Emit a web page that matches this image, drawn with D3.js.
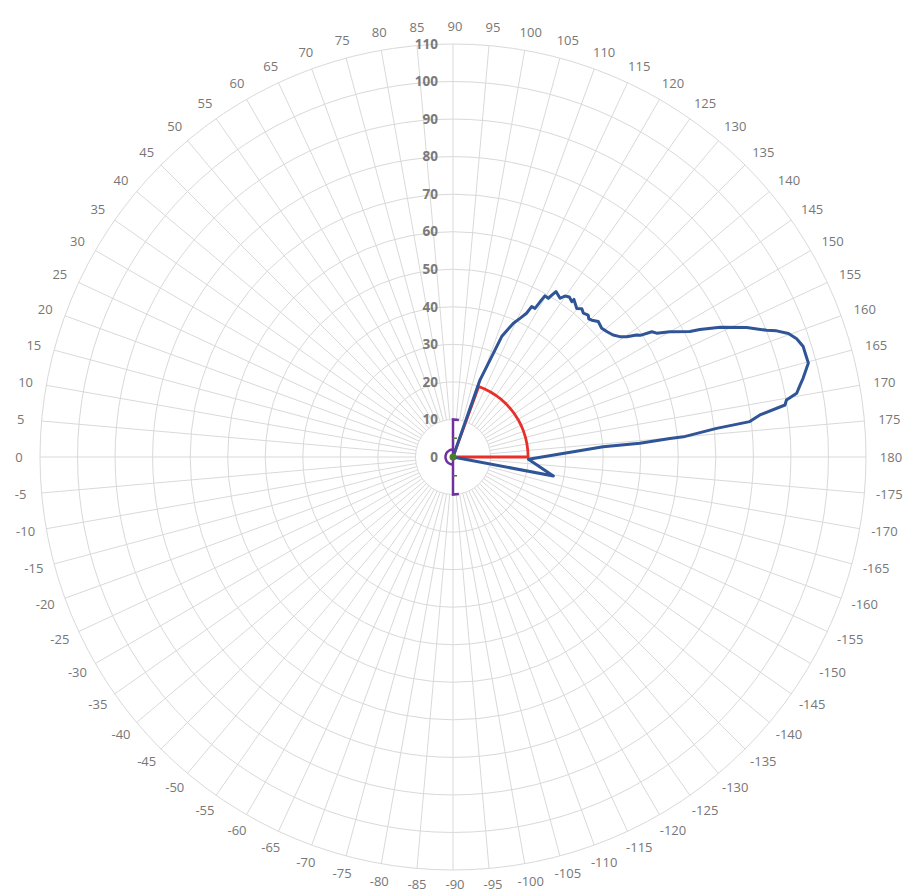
<!DOCTYPE html>
<html><head><meta charset="utf-8">
<script src="https://cdn.jsdelivr.net/npm/d3@7"></script>
<style>html,body{margin:0;padding:0;background:#fff;} svg{display:block;}</style>
</head><body>
<svg id="chart" width="909" height="894"></svg>
<script>
// ---- data ----
const categories = [0,5,10,15,20,25,30,35,40,45,50,55,60,65,70,75,80,85,90,95,100,105,110,115,120,125,130,135,140,145,150,155,160,165,170,175,180,
  -175,-170,-165,-160,-155,-150,-145,-140,-135,-130,-125,-120,-115,-110,-105,-100,-95,-90,-85,-80,-75,-70,-65,-60,-55,-50,-45,-40,-35,-30,-25,-20,-15,-10,-5];
const radialTicks = [0,10,20,30,40,50,60,70,80,90,100,110];

const blueAngles = [108,109.3,110.9,112,114.3,115.8,117.1,117.6,118.9,119.3,119.7,121,121.4,121.9,124,124.8,126,127.4,127.5,129.8,131,132.2,133.6,134.5,135.4,137,139.1,140.9,142.7,144.2,145.3,146.4,147,147.8,148.7,150,150.4,152.1,152.7,154.1,156.2,158,158.7,159.8,161,162.5,163.3,165.2,167.3,168.3,169.5,170.3,171.1,172.2,173.2,173.8,175,175.1,175.8,176.1,-178.3,-169.3,-165];
const blueValues = [0,21.7,27.6,34.6,39.1,41.0,43.0,45.2,45.2,47.4,49.4,49.3,50.5,51.9,51.0,52.2,52.7,52.1,52.9,51.5,52.3,51.7,52.2,51.6,51.9,52.9,52.4,52.9,53.6,54.8,56.3,58.7,59.5,62.6,63.5,66.7,67.5,71.4,74.0,79.1,85.5,90.1,92.5,95.2,96.8,97.8,97.8,97.9,95.6,94.4,93.1,90.1,89.5,82.5,79.6,70.6,61.6,58.0,49.9,40.1,20.1,27.2,0];

const redAngles = [110,110,115,120,125,130,135,140,145,150,155,160,165,170,175,180,180];
const redValues = [0,20,20,20,20,20,20,20,20,20,20,20,20,20,20,20,0];

const purpleAngles = [99,90,-90,-99];
const purpleValues = [10,10,10,10];
const purpleArcAngles = [90,75,60,45,30,15,0,-15,-30,-45,-60,-75,-90];
const purpleArcValues = [2,2,2,2,2,2,2,2,2,2,2,2,2];

const greenAngles = [0,90,-90];
const greenValues = [0,5,5];

// ---- layout ----
const cx = 453, cy = 457, R = 413;
const svg = d3.select('#chart');
const r = d3.scaleLinear().domain([0,110]).range([0,R]);
const ang = L => (L - 90) * Math.PI / 180;
const px = (L, v) => cx + r(v) * Math.sin(ang(L));
const py = (L, v) => cy - r(v) * Math.cos(ang(L));

const g = svg.append('g');
// rings
g.selectAll('circle.ring').data(radialTicks.filter(d => d > 0)).join('circle')
  .attr('cx', cx).attr('cy', cy).attr('r', d => r(d))
  .attr('fill', 'none').attr('stroke', '#d9d9d9').attr('stroke-width', 1);
// spokes
g.selectAll('line.spoke').data(categories).join('line')
  .attr('x1', d => px(d, 10)).attr('y1', d => py(d, 10))
  .attr('x2', d => px(d, 110)).attr('y2', d => py(d, 110))
  .attr('stroke', '#d9d9d9').attr('stroke-width', 1);

// angle labels
const labRx = 436, labRy = 431;
g.selectAll('text.cat').data(categories).join('text')
  .attr('x', d => cx + 2 + labRx * Math.sin(ang(d)))
  .attr('y', d => Math.min(884, cy - labRy * Math.cos(ang(d))))
  .attr('dy', '0.35em').attr('text-anchor', 'middle')
  .attr('font-family', 'Open Sans, sans-serif').attr('font-size', 13)
  .attr('fill', '#777777').text(d => d);

// radial labels
g.selectAll('text.rad').data(radialTicks).join('text')
  .attr('x', 438).attr('y', d => cy - r(d)).attr('dy', '0.35em')
  .attr('text-anchor', 'end')
  .attr('font-family', 'Open Sans, sans-serif').attr('font-size', 13.5).attr('font-weight', 'bold')
  .attr('fill', '#7a7a7a').text(d => d);

const line = d3.lineRadial().angle(d => ang(d[0])).radius(d => r(d[1]));
const plot = svg.append('g').attr('transform', `translate(${cx},${cy})`);

// red sector
plot.append('path').datum(redAngles.map((a, i) => [a, redValues[i]]))
  .attr('d', line).attr('fill', 'none').attr('stroke', '#e8302a').attr('stroke-width', 2.8)
  .attr('stroke-linejoin', 'round');

// blue series
plot.append('path').datum(blueAngles.map((a, i) => [a, blueValues[i]]))
  .attr('d', line).attr('fill', 'none').attr('stroke', '#2f5597').attr('stroke-width', 3)
  .attr('stroke-linejoin', 'round');

// purple series
plot.append('path').datum(purpleAngles.map((a, i) => [a, purpleValues[i]]))
  .attr('d', line).attr('fill', 'none').attr('stroke', '#7030a0').attr('stroke-width', 2.5);
plot.append('path').datum(purpleArcAngles.map((a, i) => [a, purpleArcValues[i]]))
  .attr('d', line.curve(d3.curveCardinal)).attr('fill', 'none').attr('stroke', '#7030a0').attr('stroke-width', 2.5);

// green series
const greenPts = greenAngles.map((a, i) => [a, greenValues[i]]);
greenPts.forEach(p => {
  const x = r(p[1]) * Math.sin(ang(p[0])), y = -r(p[1]) * Math.cos(ang(p[0]));
  if (p[1] === 0) {
    plot.append('circle').attr('cx', x).attr('cy', y).attr('r', 3.5).attr('fill', '#4e7a2e');
  } else {
    plot.append('line').attr('x1', x).attr('y1', y).attr('x2', x + 4).attr('y2', y)
      .attr('stroke', '#4e7a2e').attr('stroke-width', 1.5);
  }
});
</script>
</body></html>
